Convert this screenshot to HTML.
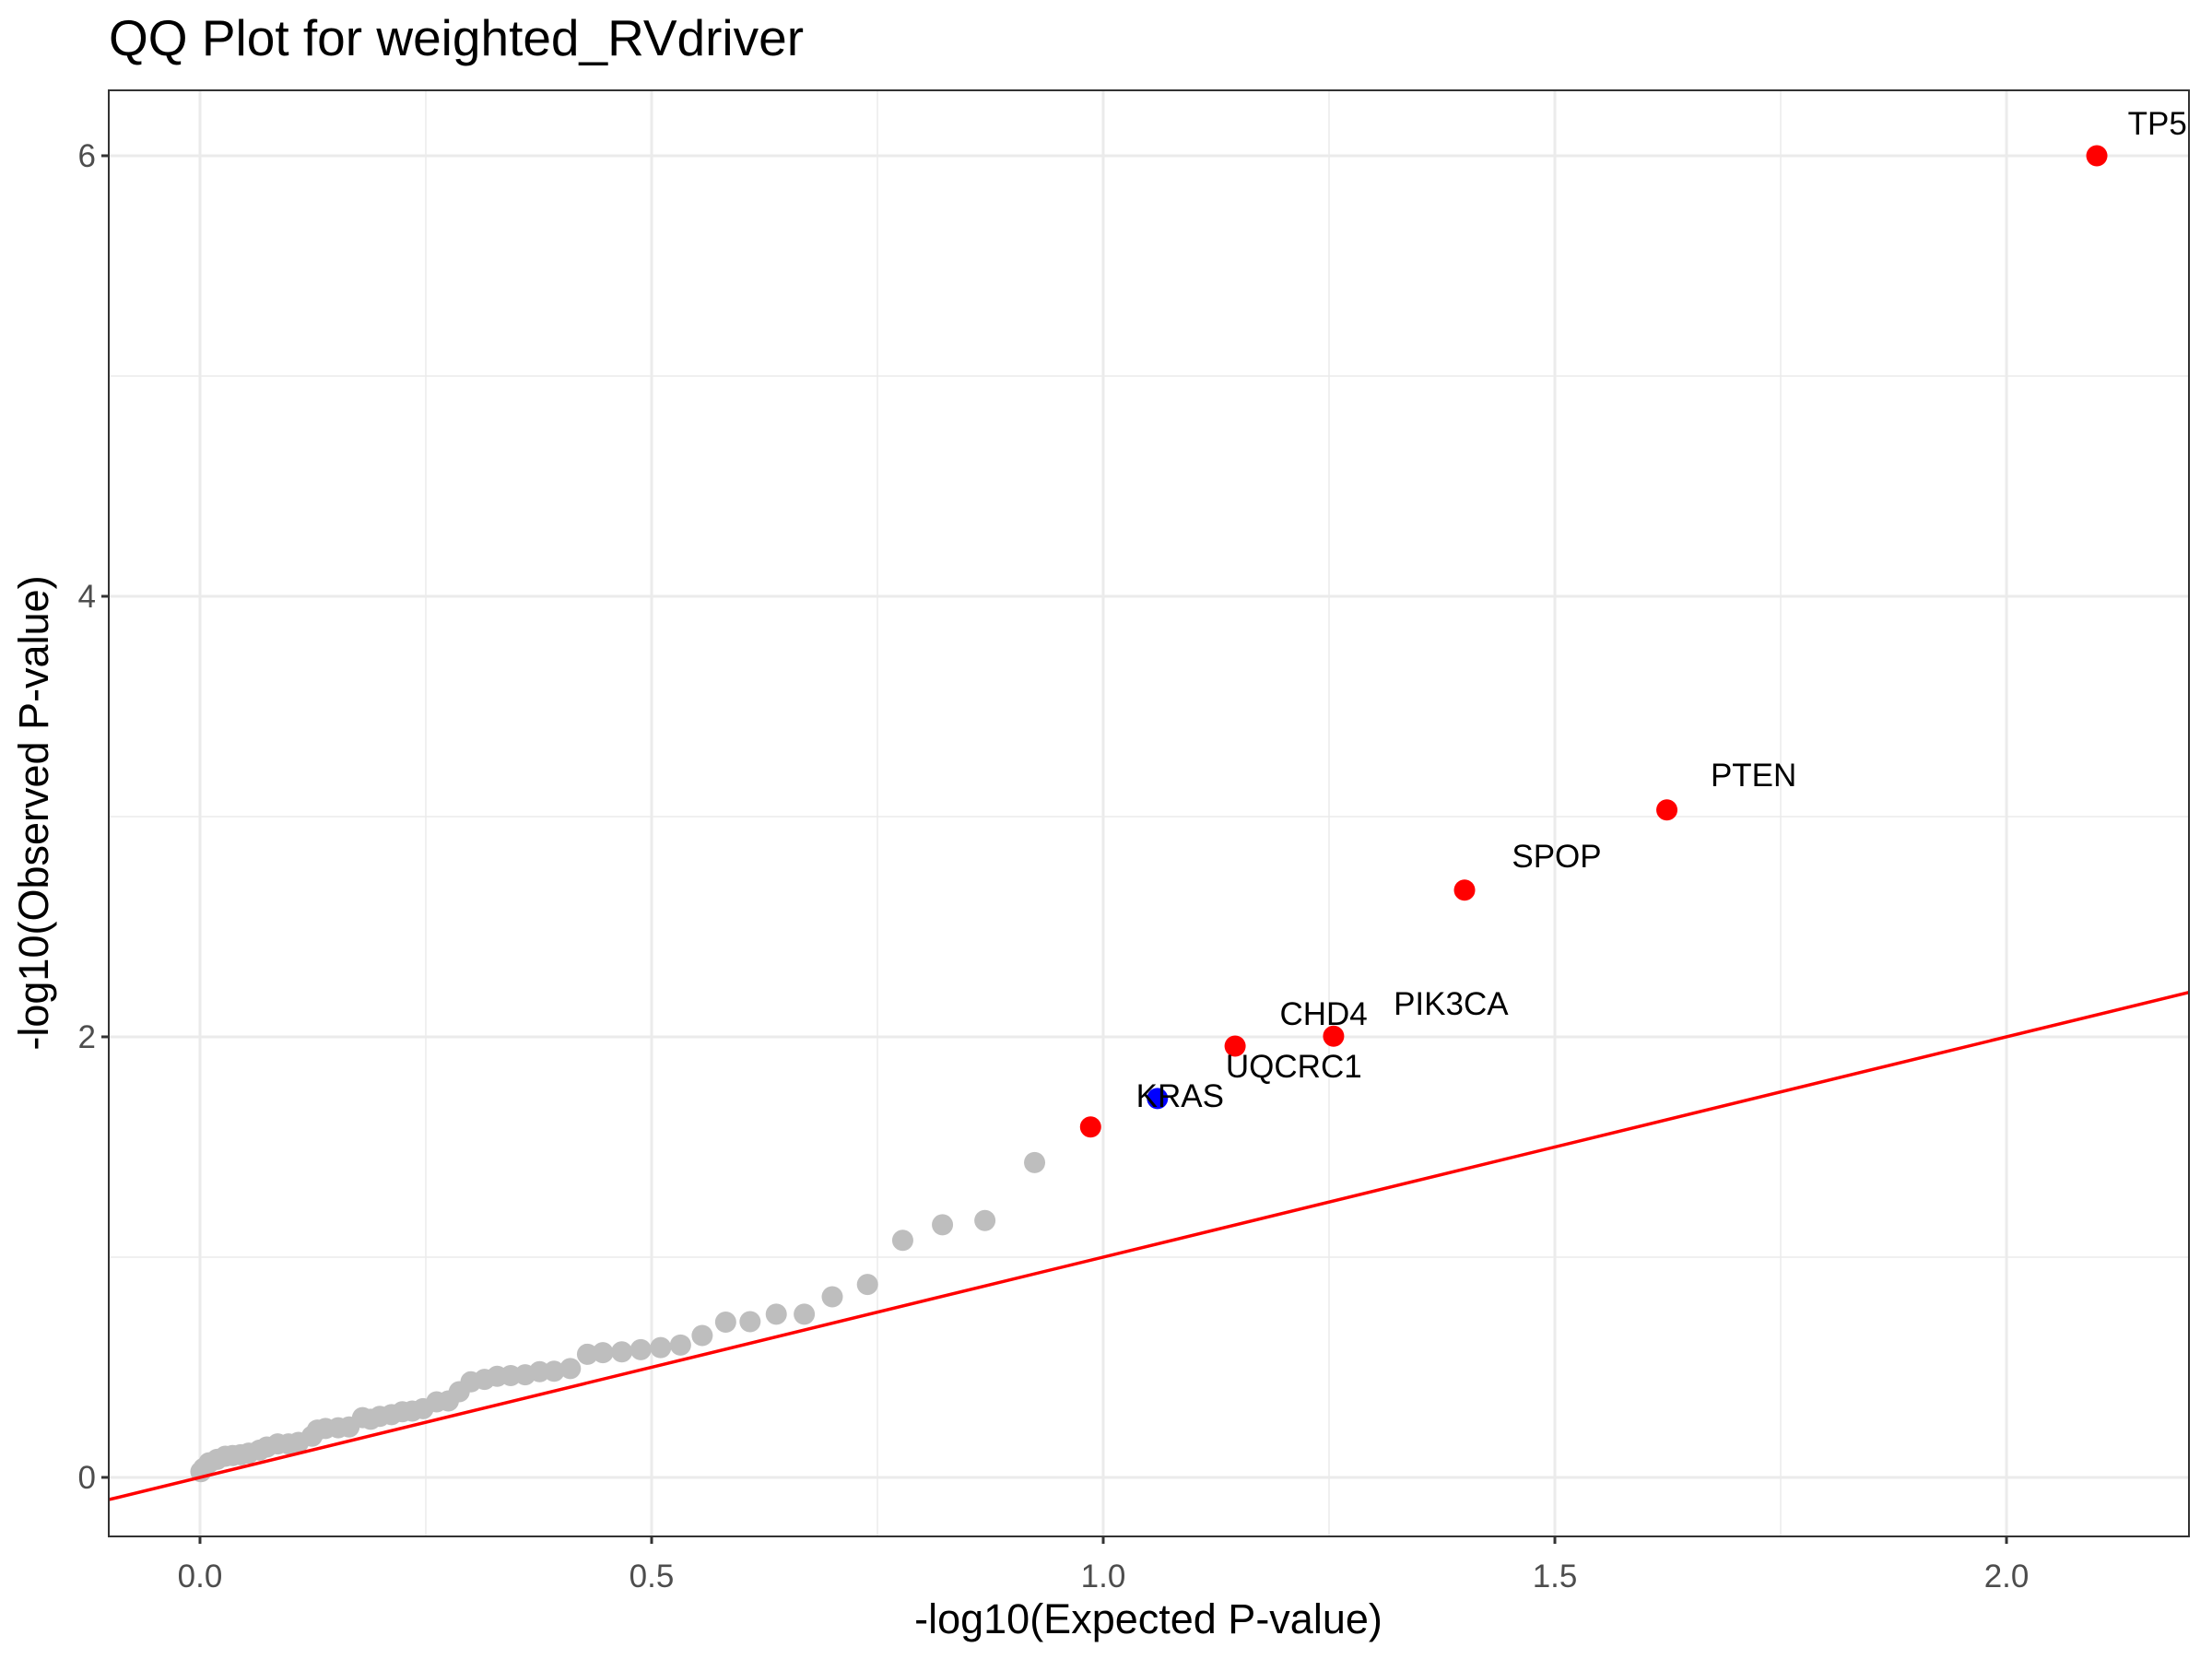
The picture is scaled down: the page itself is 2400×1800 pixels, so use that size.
<!DOCTYPE html>
<html><head><meta charset="utf-8"><style>
html,body{margin:0;padding:0;background:#fff;}
svg{display:block;font-family:"Liberation Sans",Arial,sans-serif;}
</style></head><body>
<svg id="chart" width="2400" height="1800" viewBox="0 0 2400 1800" xmlns="http://www.w3.org/2000/svg">
<defs><clipPath id="pc"><rect x="118" y="98" width="2257" height="1569"/></clipPath></defs>
<rect x="0" y="0" width="2400" height="1800" fill="#fff"/>
<text x="118" y="60" font-size="55" fill="#000">QQ Plot for weighted_RVdriver</text>
<g id="grid"></g>
<g id="marks" clip-path="url(#pc)"></g>
<rect x="118" y="98" width="2257" height="1569" fill="none" stroke="#333" stroke-width="2"/>
<g id="axes"></g>
<text x="1246" y="1772" font-size="45" text-anchor="middle" fill="#000">-log10(Expected P-value)</text>
<text transform="translate(52,882) rotate(-90)" font-size="45" text-anchor="middle" fill="#000">-log10(Observed P-value)</text>
</svg>
<script>
const xTicks = [0, 0.5, 1, 1.5, 2];
const xTickLabels = ["0.0", "0.5", "1.0", "1.5", "2.0"];
const yTicks = [0, 2, 4, 6];
const yTickLabels = ["0", "2", "4", "6"];
const grayX = [0.001,0.004,0.010,0.019,0.028,0.036,0.045,0.054,0.066,0.074,0.086,0.098,0.109,0.124,0.130,0.139,0.153,0.165,0.180,0.189,0.199,0.212,0.224,0.235,0.247,0.262,0.275,0.287,0.300,0.315,0.329,0.344,0.360,0.376,0.392,0.410,0.429,0.446,0.467,0.488,0.510,0.532,0.556,0.582,0.609,0.638,0.669,0.700,0.739,0.778,0.822,0.869,0.924];
const grayY = [0.026,0.041,0.066,0.082,0.096,0.099,0.103,0.110,0.124,0.138,0.152,0.152,0.159,0.187,0.215,0.222,0.225,0.229,0.271,0.264,0.277,0.285,0.298,0.301,0.312,0.343,0.347,0.389,0.434,0.445,0.459,0.462,0.466,0.480,0.482,0.494,0.559,0.566,0.570,0.580,0.589,0.601,0.644,0.705,0.707,0.741,0.741,0.820,0.876,1.076,1.147,1.166,1.429];
const hiX = [0.986, 1.060, 1.146, 1.255, 1.400, 1.624, 2.100];
const hiY = [1.591, 1.720, 1.958, 2.003, 2.666, 3.030, 6.000];
const hiColor = ["red","blue","red","red","red","red","red"];
const labelText = ["TP53","PTEN","SPOP","PIK3CA","CHD4","UQCRC1","KRAS"];
const labelX = [2.177, 1.720, 1.502, 1.385, 1.244, 1.211, 1.085];
const labelY = [6.146, 3.188, 2.820, 2.151, 2.105, 1.866, 1.732];

const X0=118,X1=2375,Y0=98,Y1=1667;
const xMin=-0.101,xMax=2.202,yMin=-0.268,yMax=6.297;
const sx=v=>X0+(v-xMin)/(xMax-xMin)*(X1-X0);
const sy=v=>Y1-(v-yMin)/(yMax-yMin)*(Y1-Y0);
const NS="http://www.w3.org/2000/svg";
function mk(tag,attrs,parent){const e=document.createElementNS(NS,tag);for(const k in attrs)e.setAttribute(k,attrs[k]);parent.appendChild(e);return e;}
const grid=document.getElementById('grid'),marks=document.getElementById('marks'),axes=document.getElementById('axes');
mk('rect',{x:X0,y:Y0,width:X1-X0,height:Y1-Y0,fill:'#fff'},grid);
for(let i=0;i<xTicks.length-1;i++){const v=(xTicks[i]+xTicks[i+1])/2;
 const l=mk('line',{x1:sx(v),x2:sx(v),y1:Y0,y2:Y1,stroke:'#ebebeb','stroke-width':1.5},grid);
 
 }
for(let i=0;i<yTicks.length-1;i++){const v=(yTicks[i]+yTicks[i+1])/2;
 const l=mk('line',{x1:X0,x2:X1,y1:sy(v),y2:sy(v),stroke:'#ebebeb','stroke-width':1.5},grid);
 
 }
xTicks.forEach((v,i)=>{
 const l=mk('line',{x1:sx(v),x2:sx(v),y1:Y0,y2:Y1,stroke:'#ebebeb','stroke-width':3},grid);
 
 
 const t=mk('line',{x1:sx(v),x2:sx(v),y1:Y1,y2:Y1+8,stroke:'#333','stroke-width':3},axes);
 
 
 const tx=mk('text',{x:sx(v),y:Y1+55,'font-size':35,'text-anchor':'middle',fill:'#4d4d4d'},axes);
 tx.textContent=xTickLabels[i];
 
 
});
yTicks.forEach((v,i)=>{
 const l=mk('line',{x1:X0,x2:X1,y1:sy(v),y2:sy(v),stroke:'#ebebeb','stroke-width':3},grid);
 
 
 const t=mk('line',{x1:X0-8,x2:X0,y1:sy(v),y2:sy(v),stroke:'#333','stroke-width':3},axes);
 
 
 const tx=mk('text',{x:X0-14,y:sy(v)+12,'font-size':35,'text-anchor':'end',fill:'#4d4d4d'},axes);
 tx.textContent=yTickLabels[i];
 
 
});
grayX.forEach((v,i)=>{
 const c=mk('circle',{cx:sx(v),cy:sy(grayY[i]),r:11.5,fill:'#bebebe'},marks);
 
 
});
const ref=mk('line',{x1:sx(xMin),y1:sy(xMin),x2:sx(xMax),y2:sy(xMax),stroke:'#ff0000','stroke-width':3.5},marks);


hiX.forEach((v,i)=>{
 const c=mk('circle',{cx:sx(v),cy:sy(hiY[i]),r:11.5,fill:hiColor[i]==='red'?'#ff0000':'#0000ff'},marks);
 
 
});
labelText.forEach((s,i)=>{
 const t=mk('text',{x:sx(labelX[i]),y:sy(labelY[i])+12,'font-size':35,'text-anchor':'middle',fill:'#000'},marks);
 t.textContent=s;
 
 
});
</script>
</body></html>
